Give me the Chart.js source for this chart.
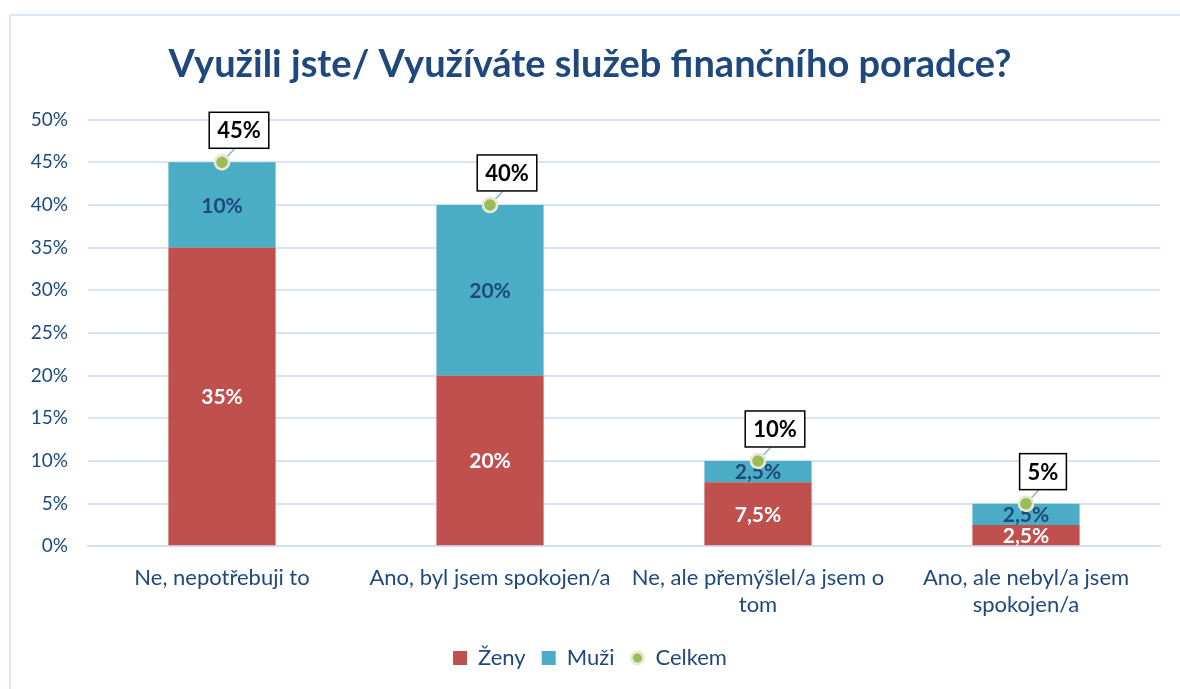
<!DOCTYPE html>
<html>
<head>
<meta charset="utf-8">
<script src="https://cdn.jsdelivr.net/npm/chart.js@4"></script>
<style>
  html, body { margin: 0; padding: 0; background: #fff; }
  #wrap { width: 1180px; height: 689px; position: relative; }
</style>
</head>
<body>
<div id="wrap"><canvas id="chart" width="1180" height="689"></canvas></div>
<script>
const categories = [
  'Ne, nepotřebuji to',
  'Ano, byl jsem spokojen/a',
  ['Ne, ale přemýšlel/a jsem o', 'tom'],
  ['Ano, ale nebyl/a jsem', 'spokojen/a']
];
const zeny = [35, 20, 7.5, 2.5];
const muzi = [10, 20, 2.5, 2.5];
const celkem = [45, 40, 10, 5];
const yTicks = [0, 5, 10, 15, 20, 25, 30, 35, 40, 45, 50];

const FONT = 'Lato, "Open Sans", sans-serif';
const NAVY = '#1f497d';
const GREEN = '#9bbb59';
const HALO = '#e6ead4';

function fmt(v) {
  return String(v).replace('.', ',') + '%';
}

// small dot with halo for the legend entry of the totals
function legendDot() {
  const c = document.createElement('canvas');
  c.width = 18;
  c.height = 18;
  const g = c.getContext('2d');
  g.beginPath();
  g.arc(9, 9, 6, 0, Math.PI * 2);
  g.fillStyle = GREEN;
  g.fill();
  g.lineWidth = 3;
  g.strokeStyle = HALO;
  g.stroke();
  return c;
}

// light frame around the chart
const framePlugin = {
  id: 'frame',
  beforeDraw(chart) {
    const ctx = chart.ctx;
    ctx.save();
    ctx.strokeStyle = '#dbe5f3';
    ctx.lineWidth = 2;
    ctx.strokeRect(10, 15, 1200, 700);
    ctx.restore();
  }
};

// value labels: inside bars, boxed above the total points
const labelPlugin = {
  id: 'valueLabels',
  afterDatasetsDraw(chart) {
    const ctx = chart.ctx;
    ctx.save();
    ctx.textAlign = 'center';
    ctx.textBaseline = 'middle';
    chart.data.datasets.forEach((ds, di) => {
      const meta = chart.getDatasetMeta(di);
      meta.data.forEach((el, i) => {
        const v = ds.data[i];
        if (ds.type === 'line') {
          ctx.font = 'bold 22px ' + FONT;
          const txt = fmt(v);
          const w = ctx.measureText(txt).width + 16;
          const h = 36;
          const cx = el.x + 17, cy = el.y - 32;
          ctx.strokeStyle = '#8db3e2';
          ctx.lineWidth = 1.5;
          ctx.beginPath();
          ctx.moveTo(el.x, el.y);
          ctx.lineTo(cx - 4, cy + h / 2);
          ctx.stroke();
          ctx.fillStyle = '#fff';
          ctx.fillRect(cx - w / 2, cy - h / 2, w, h);
          ctx.strokeStyle = '#000';
          ctx.lineWidth = 1.5;
          ctx.strokeRect(cx - w / 2, cy - h / 2, w, h);
          ctx.fillStyle = '#000';
          ctx.fillText(txt, cx, cy + 1);
          // redraw the point over the leader line
          el.draw(ctx);
        } else {
          ctx.font = 'bold 21px ' + FONT;
          ctx.fillStyle = ds.labelColor;
          ctx.fillText(fmt(v), el.x, (el.y + el.base) / 2 + 1);
        }
      });
    });
    ctx.restore();
  }
};

new Chart(document.getElementById('chart'), {
  type: 'bar',
  data: {
    labels: categories,
    datasets: [
      {
        label: 'Ženy',
        data: zeny,
        backgroundColor: '#c0504d',
        borderWidth: 0,
        pointStyle: 'rect',
        labelColor: '#ffffff',
        categoryPercentage: 1,
        barPercentage: 0.4,
        order: 1
      },
      {
        label: 'Muži',
        data: muzi,
        backgroundColor: '#4bacc6',
        borderWidth: 0,
        pointStyle: 'rect',
        labelColor: NAVY,
        categoryPercentage: 1,
        barPercentage: 0.4,
        order: 1
      },
      {
        type: 'line',
        label: 'Celkem',
        data: celkem,
        stack: 'total',
        showLine: false,
        pointStyle: 'circle',
        pointRadius: 7,
        pointHoverRadius: 7,
        backgroundColor: GREEN,
        borderColor: HALO,
        pointBorderWidth: 2.5,
        order: 0
      }
    ]
  },
  options: {
    responsive: false,
    animation: false,
    devicePixelRatio: 1,
    layout: { padding: { left: 20, right: 20, top: 0, bottom: 10 } },
    plugins: {
      title: {
        display: true,
        text: 'Využili jste/ Využíváte služeb finančního poradce?',
        color: NAVY,
        font: { family: FONT, size: 38, weight: 'bold' },
        padding: { top: 42, bottom: 32 }
      },
      legend: {
        position: 'bottom',
        labels: {
          usePointStyle: true,
          boxWidth: 14,
          boxHeight: 14,
          padding: 16,
          color: NAVY,
          font: { family: FONT, size: 22 },
          sort: (a, b) => a.datasetIndex - b.datasetIndex,
          generateLabels(chart) {
            const items = Chart.defaults.plugins.legend.labels.generateLabels(chart);
            items.forEach(it => {
              if (it.datasetIndex === 2) it.pointStyle = legendDot();
            });
            return items;
          }
        }
      },
      tooltip: { enabled: false }
    },
    scales: {
      x: {
        stacked: true,
        afterFit(scale) { scale.height += 3; },
        grid: { display: false },
        border: { color: '#d6e1f0', width: 2 },
        ticks: {
          color: NAVY,
          padding: 10,
          maxRotation: 0,
          autoSkip: false,
          font: { family: FONT, size: 22, lineHeight: 1.22 }
        }
      },
      y: {
        stacked: true,
        min: 0,
        max: 50,
        afterFit(scale) { scale.width = 68; },
        afterBuildTicks(scale) { scale.ticks = yTicks.map(v => ({ value: v })); },
        grid: { color: '#d9e4f2', lineWidth: 2, drawTicks: false },
        border: { display: false },
        ticks: {
          color: NAVY,
          padding: 20,
          font: { family: FONT, size: 19 },
          callback: v => v + '%'
        }
      }
    }
  },
  plugins: [framePlugin, labelPlugin]
});
</script>
</body>
</html>
